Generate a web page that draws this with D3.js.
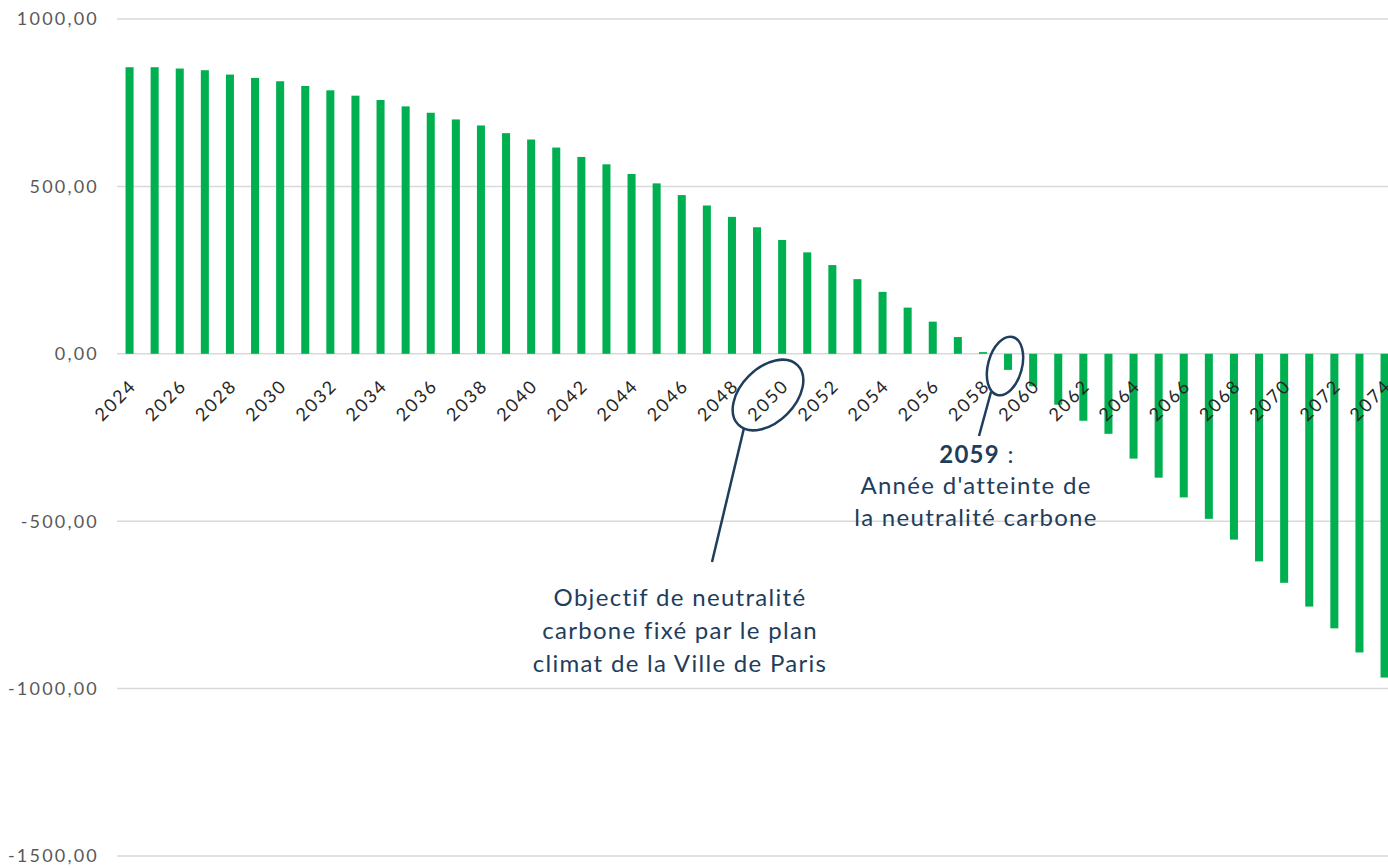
<!DOCTYPE html>
<html>
<head>
<meta charset="utf-8">
<script src="https://cdn.jsdelivr.net/npm/d3@7"></script>
<style>
  body { margin: 0; background: #fff; }
  text { font-family: Lato, "Open Sans", sans-serif; }
</style>
</head>
<body>
<script>
// data
var years = d3.range(2024, 2075);
var values = [856, 856, 852, 847, 834, 824, 814, 800, 787, 771,
              758, 739, 720, 700, 682, 659, 640, 616, 588, 566,
              537, 509, 474, 443, 409, 378, 340, 303, 265, 223,
              185, 138, 96, 50, 5, -48, -97, -152, -200, -239,
              -313, -370, -429, -493, -555, -620, -684, -755, -820, -892,
              -967];
var yTicks = [-1500, -1000, -500, 0, 500, 1000];
var noteParis = ["Objectif de neutralité", "carbone fixé par le plan", "climat de la Ville de Paris"];
var noteReach = ["Année d'atteinte de", "la neutralité carbone"];

var width = 1388, height = 868;
var left = 117, step = 25.1;

var svg = d3.select("body").append("svg")
    .attr("width", width)
    .attr("height", height);

// scales
var x = d3.scaleBand()
    .domain(years)
    .range([left, left + years.length * step])
    .paddingInner(0.68)
    .paddingOuter(0.34);

var y = d3.scaleLinear()
    .domain([-1500, 1000])
    .range([856, 19]);

// gridlines
svg.append("g").selectAll("line")
    .data(yTicks)
  .enter().append("line")
    .attr("x1", left)
    .attr("x2", width)
    .attr("y1", function(d) { return y(d); })
    .attr("y2", function(d) { return y(d); })
    .style("stroke", "#d9d9d9")
    .style("stroke-width", 1.5);

// y labels
svg.append("g").selectAll("text")
    .data(yTicks)
  .enter().append("text")
    .attr("x", 99)
    .attr("y", function(d) { return y(d); })
    .attr("dy", "0.35em")
    .attr("text-anchor", "end")
    .style("font-size", "18px")
    .style("letter-spacing", "2.2px")
    .style("fill", "#595959")
    .text(function(d) { return d3.format(".2f")(d).replace(".", ",").replace("\u2212", "-"); });

// bars
svg.append("g").selectAll("rect")
    .data(values)
  .enter().append("rect")
    .attr("x", function(d, i) { return x(years[i]); })
    .attr("width", x.bandwidth())
    .attr("y", function(d) { return y(Math.max(0, d)); })
    .attr("height", function(d) { return Math.abs(y(d) - y(0)); })
    .style("fill", "#00b050");

// x labels, every second year
svg.append("g").selectAll("text")
    .data(years.filter(function(d) { return d % 2 === 0; }))
  .enter().append("text")
    .attr("transform", function(d) {
      return "translate(" + (x(d) + x.bandwidth() / 2 + 8) + ",387) rotate(-45)";
    })
    .attr("text-anchor", "end")
    .style("font-size", "18px")
    .style("letter-spacing", "2px")
    .style("fill", "#262626")
    .text(function(d) { return d; });

// annotations
var navy = "#1f3d5c";

svg.append("ellipse")
    .attr("cx", 768)
    .attr("cy", 395)
    .attr("rx", 42)
    .attr("ry", 27)
    .attr("transform", "rotate(-45,768,395)")
    .style("fill", "none")
    .style("stroke", navy)
    .style("stroke-width", 2.5);

svg.append("line")
    .attr("x1", 744).attr("y1", 428)
    .attr("x2", 712).attr("y2", 562)
    .style("stroke", navy)
    .style("stroke-width", 2.5);

svg.append("ellipse")
    .attr("cx", 1005)
    .attr("cy", 366)
    .attr("rx", 17)
    .attr("ry", 30)
    .attr("transform", "rotate(15,1005,366)")
    .style("fill", "none")
    .style("stroke", navy)
    .style("stroke-width", 2.5);

svg.append("line")
    .attr("x1", 991).attr("y1", 392)
    .attr("x2", 979).attr("y2", 436)
    .style("stroke", navy)
    .style("stroke-width", 2.5);

svg.append("g").selectAll("text")
    .data(noteParis)
  .enter().append("text")
    .attr("x", 680)
    .attr("y", function(d, i) { return 606 + i * 33; })
    .attr("text-anchor", "middle")
    .style("font-size", "24px")
    .style("letter-spacing", "1.3px")
    .style("fill", navy)
    .text(function(d) { return d; });

var head = svg.append("text")
    .attr("x", 977)
    .attr("y", 463)
    .attr("text-anchor", "middle")
    .style("font-size", "24px")
    .style("letter-spacing", "1.3px")
    .style("fill", navy);
head.append("tspan").style("font-weight", "bold").text("2059");
head.append("tspan").text(" :");

svg.append("g").selectAll("text")
    .data(noteReach)
  .enter().append("text")
    .attr("x", 976)
    .attr("y", function(d, i) { return 494 + i * 32; })
    .attr("text-anchor", "middle")
    .style("font-size", "24px")
    .style("letter-spacing", "1.3px")
    .style("fill", navy)
    .text(function(d) { return d; });
</script>
</body>
</html>
